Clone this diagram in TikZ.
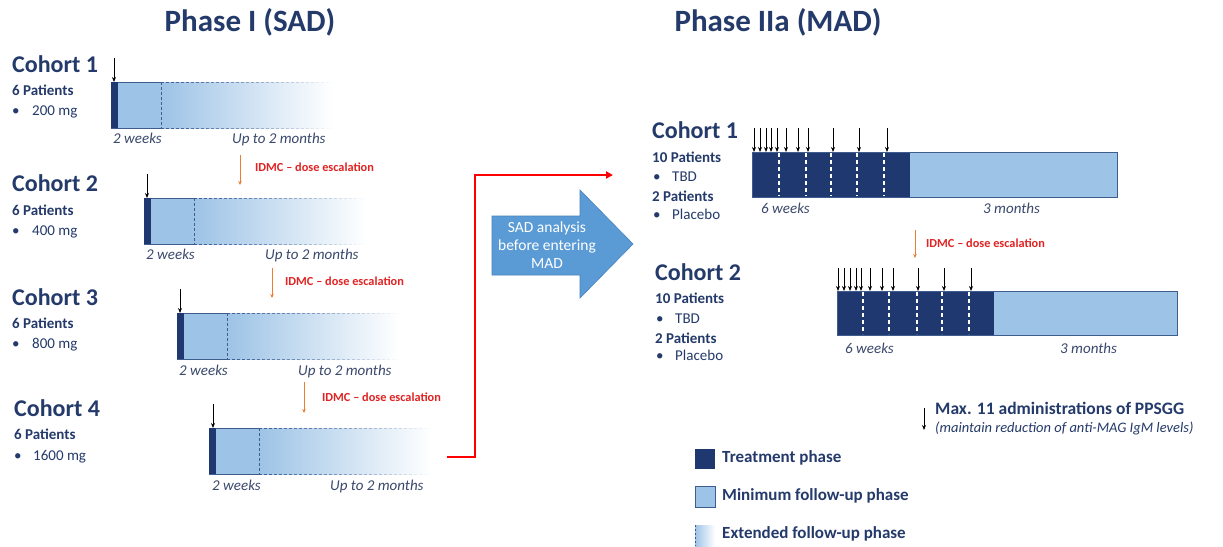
\documentclass[tikz,border=0pt]{standalone}
\usepackage{fontspec}
\setmainfont{Carlito}
\usetikzlibrary{arrows.meta,fadings}
\definecolor{navy}{RGB}{36,58,106}
\definecolor{barnavy}{RGB}{31,56,112}
\definecolor{lightb}{RGB}{157,195,230}
\definecolor{bordb}{RGB}{62,92,140}
\definecolor{idmcred}{RGB}{225,35,35}
\definecolor{orangea}{RGB}{237,125,49}
\definecolor{bigblue}{RGB}{91,155,213}
\definecolor{bigblueedge}{RGB}{70,130,190}
\definecolor{itnavy}{RGB}{58,72,108}
\tikzfading[name=fadeoutright, left color=transparent!0, right color=transparent!100]
\tikzset{
  txt/.style={anchor=west, inner sep=0pt, text height=0.64em, text depth=0pt},
  cohort/.style={txt, font=\fontsize{24}{28}\selectfont\bfseries, text=navy},
  patients/.style={txt, font=\fontsize{15}{18}\selectfont\bfseries, text=navy},
  dose/.style={txt, font=\fontsize{15}{18}\selectfont, text=navy},
  timelbl/.style={txt, font=\fontsize{15}{18}\selectfont\itshape, text=itnavy},
  idmc/.style={txt, font=\fontsize{12.3}{14}\selectfont\bfseries, text=idmcred},
  idmcarrow/.style={draw=orangea, line width=1pt, -{Stealth[length=4pt,width=3.5pt]}},
  dosearrow/.style={draw=black, line width=0.9pt, -{Stealth[length=5pt,width=4pt]}},
  title/.style={inner sep=0pt, font=\fontsize{31}{35}\selectfont\bfseries, text=navy},
  legend/.style={txt, font=\fontsize{17}{20}\selectfont\bfseries, text=navy},
  barline/.style={draw=bordb, line width=0.8pt},
  whitedash/.style={draw=white, line width=1.1pt, dash pattern=on 4pt off 3pt},
}
\newcommand\sadbar[2]{%
  \shade[left color=lightb, right color=white] (#1+50,#2) rectangle (#1+222,#2+46);
  \fill[lightb] (#1,#2) rectangle (#1+50,#2+46);
  \draw[barline, dash pattern=on 3pt off 2pt, path fading=fadeoutright] (#1+50,#2) -- (#1+222,#2) (#1+50,#2+46) -- (#1+222,#2+46);
  \draw[barline] (#1+50,#2) -- (#1,#2) -- (#1,#2+46) -- (#1+50,#2+46);
  \draw[barline, dash pattern=on 3pt off 2pt] (#1+50,#2) -- (#1+50,#2+46);
  \fill[barnavy] (#1,#2) rectangle (#1+7,#2+46);
}
\begin{document}
\begin{tikzpicture}[x=1pt,y=-1pt]
\fill[white] (0,0) rectangle (1223,546);
\useasboundingbox (0,0) rectangle (1223,546);

% titles
\node[title] (t1) at (250,22) {Phase I (SAD)};
\node[title] (t2) at (778,22) {Phase IIa (MAD)};

% ---------- SAD ----------
% cohort 1
\node[cohort] (c1) at (12,69) {Cohort 1};
\node[patients] (c1p) at (12,92) {6 Patients};
\node[dose] (c1b) at (12,112) {•};
\node[dose] (c1d) at (32,112) {200 mg};
\sadbar{111}{82}
\coordinate (c1a0) at (114,58); \coordinate (c1a1) at (114,82);
\draw[dosearrow] (c1a0) -- (c1a1);
\node[timelbl] (c1w) at (113,140) {2 weeks};
\node[timelbl] (c1m) at (232,140) {Up to 2 months};
\coordinate (i1a) at (240,155); \coordinate (i1b) at (240,185);
\draw[idmcarrow] (i1a) -- (i1b);
\node[idmc] (i1) at (255,168) {IDMC – dose escalation};

% cohort 2
\node[cohort] (c2) at (12,188) {Cohort 2};
\node[patients] (c2p) at (12,212) {6 Patients};
\node[dose] (c2b) at (12,232) {•};
\node[dose] (c2d) at (32,232) {400 mg};
\sadbar{144}{198}
\coordinate (c2a0) at (147,174); \coordinate (c2a1) at (147,198);
\draw[dosearrow] (c2a0) -- (c2a1);
\node[timelbl] (c2w) at (146,256) {2 weeks};
\node[timelbl] (c2m) at (265,256) {Up to 2 months};
\coordinate (i2a) at (272,268); \coordinate (i2b) at (272,298);
\draw[idmcarrow] (i2a) -- (i2b);
\node[idmc] (i2) at (285,282) {IDMC – dose escalation};

% cohort 3
\node[cohort] (c3) at (12,302) {Cohort 3};
\node[patients] (c3p) at (12,325) {6 Patients};
\node[dose] (c3b) at (12,345) {•};
\node[dose] (c3d) at (32,345) {800 mg};
\sadbar{177}{313}
\coordinate (c3a0) at (180,289); \coordinate (c3a1) at (180,313);
\draw[dosearrow] (c3a0) -- (c3a1);
\node[timelbl] (c3w) at (179,372) {2 weeks};
\node[timelbl] (c3m) at (298,372) {Up to 2 months};
\coordinate (i3a) at (304,382); \coordinate (i3b) at (304,413);
\draw[idmcarrow] (i3a) -- (i3b);
\node[idmc] (i3) at (322,398) {IDMC – dose escalation};

% cohort 4
\node[cohort] (c4) at (14,413) {Cohort 4};
\node[patients] (c4p) at (14,436) {6 Patients};
\node[dose] (c4b) at (14,457) {•};
\node[dose] (c4d) at (33,457) {1600 mg};
\sadbar{209}{428}
\coordinate (c4a0) at (213,404); \coordinate (c4a1) at (213,428);
\draw[dosearrow] (c4a0) -- (c4a1);
\node[timelbl] (c4w) at (212,487) {2 weeks};
\node[timelbl] (c4m) at (330,487) {Up to 2 months};

% red connector
\coordinate (redstart) at (447,457);
\coordinate (redend) at (613,175);
\draw[red, line width=2.2pt, -{Triangle[length=7pt,width=7pt]}] (redstart) -- ++(28,0) |- (redend);

% big arrow
\fill[bigblue, draw=bigblueedge, line width=0.6pt] (492,216) -- (580,216) -- (580,190) -- (633,244) -- (580,298) -- (580,275) -- (492,275) -- cycle;
\node[align=center, text=white, inner sep=0pt, font=\fontsize{15.5}{18.2}\selectfont] (sadana) at (547,245) {SAD analysis\\before entering\\MAD};

% ---------- MAD ----------
% cohort 1
\node[cohort] (m1) at (652,135) {Cohort 1};
\node[patients] (m1p) at (652,159) {10 Patients};
\node[dose] (m1b) at (653,178) {•};
\node[dose] (m1t) at (672,178) {TBD};
\node[patients] (m1q) at (652,198) {2 Patients};
\node[dose] (m1c) at (653,216) {•};
\node[dose] (m1pl) at (672,216) {Placebo};
\fill[lightb] (910,152) rectangle (1117,197);
\fill[barnavy] (752,152) rectangle (910,197);
\draw[bordb, line width=1pt] (752,152) rectangle (1117,197);
\foreach \x in {779,806,831,857,884} \draw[whitedash] (\x,153) -- (\x,196);
\foreach \x in {754,760,766,771,777,786,798,808,833,859,887} \draw[dosearrow] (\x,128) -- (\x,152);
\node[timelbl] (m1w) at (761,210) {6 weeks};
\node[timelbl] (m1m) at (983,210) {3 months};
\coordinate (i4a) at (915,230); \coordinate (i4b) at (915,258);
\draw[idmcarrow] (i4a) -- (i4b);
\node[idmc] (i4) at (926,244) {IDMC – dose escalation};

% cohort 2
\node[cohort] (m2) at (655,277) {Cohort 2};
\node[patients] (m2p) at (655,300) {10 Patients};
\node[dose] (m2b) at (656,320) {•};
\node[dose] (m2t) at (675,320) {TBD};
\node[patients] (m2q) at (655,340) {2 Patients};
\node[dose] (m2c) at (656,357) {•};
\node[dose] (m2pl) at (675,357) {Placebo};
\fill[lightb] (994,291) rectangle (1177,335);
\fill[barnavy] (837,291) rectangle (994,335);
\draw[bordb, line width=1pt] (837,291) rectangle (1177,335);
\foreach \x in {863,889,917,942,969} \draw[whitedash] (\x,292) -- (\x,334);
\foreach \x in {838,844,850,856,861,870,882,893,918,944,971} \draw[dosearrow] (\x,268) -- (\x,291);
\node[timelbl] (m2w) at (845,350) {6 weeks};
\node[timelbl] (m2m) at (1060,350) {3 months};

% legend
\coordinate (la0) at (924,408); \coordinate (la1) at (924,430);
\draw[dosearrow] (la0) -- (la1);
\node[txt, font=\fontsize{17.5}{20}\selectfont\bfseries, text=navy] (lmax) at (935,411) {Max. 11 administrations of PPSGG};
\node[txt, font=\fontsize{14.5}{17}\selectfont\itshape, text=navy] (lmaint) at (935,429) {(maintain reduction of anti-MAG IgM levels)};

\fill[barnavy] (695,449) rectangle (715,469);
\node[legend] (lt) at (722,459) {Treatment phase};
\fill[lightb, draw=bordb, line width=0.8pt] (695,486) rectangle (715,507);
\node[legend] (lm) at (722,497) {Minimum follow-up phase};
\shade[left color=lightb, right color=white] (695,525) rectangle (715,546);
\draw[barline, dash pattern=on 2pt off 2pt] (695,525) -- (695,546);
\node[legend] (le) at (722,535) {Extended follow-up phase};
\end{tikzpicture}
\end{document}
